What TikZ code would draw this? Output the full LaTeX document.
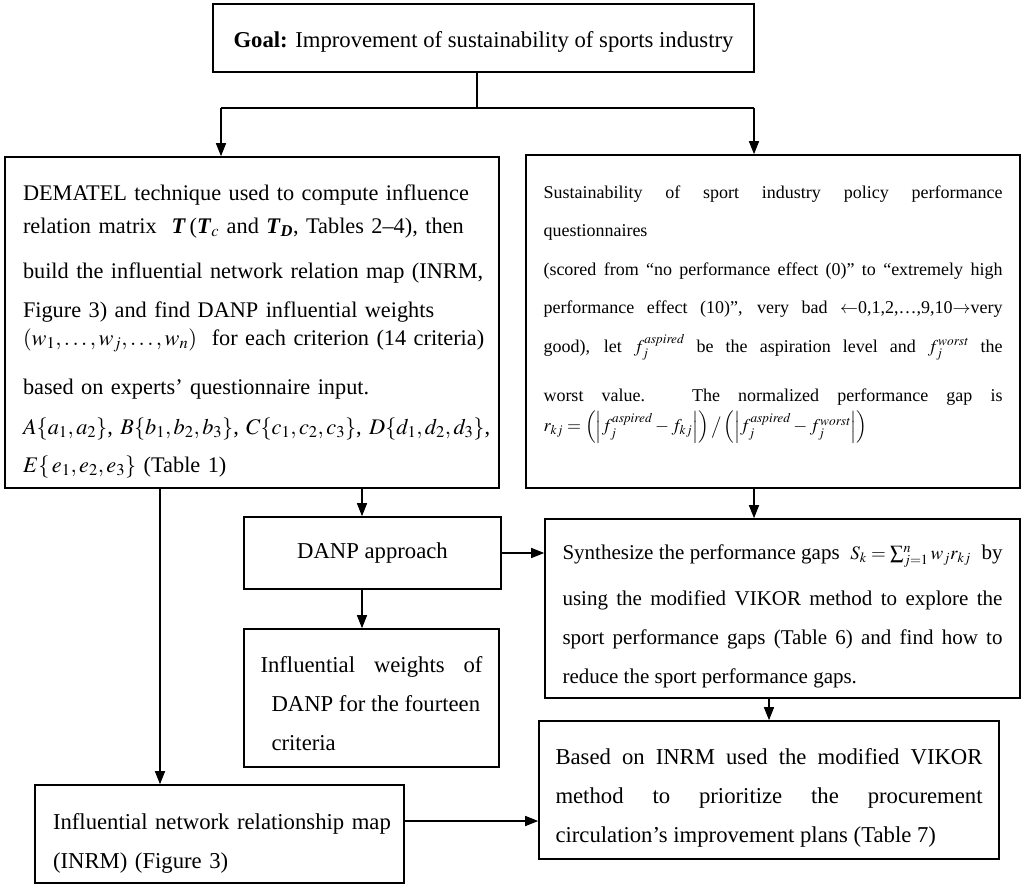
\documentclass[tikz,border=0pt]{standalone}
\usepackage{amsmath}
\usepackage{mathptmx}
\usepackage{fontspec}
\setmainfont{Liberation Serif}
\usetikzlibrary{shapes}
\usetikzlibrary{arrows.meta}

\begin{document}
\begin{tikzpicture}[x=1pt,y=-1pt]
\tikzstyle{cadre}=[rectangle,draw,line width=1.6pt,inner sep=0pt,font=\fontsize{22.7}{39}\selectfont]
\tikzstyle{petit}=[font=\fontsize{18}{38.5}\selectfont]
\tikzstyle{operation}=[-{Triangle[length=13pt,width=10pt]},line width=1.4pt]
\tikzstyle{trait}=[line width=1.4pt]
\useasboundingbox (0,0) rectangle (1024,888);
\node[cadre,minimum width=541,minimum height=68,text height=24pt] (goal) at (483.5,38) {\textbf{Goal:} Improvement of sustainability of sports industry};
\node[cadre,minimum width=494,minimum height=331,text width=458,align=left,font=\fontsize{22.3}{33}\selectfont] (dematel) at (252,322.5) {\mbox{DEMATEL technique used to compute influence}\\
\mbox{relation matrix~ \textbf{\textit{T}}\,(\textbf{\textit{T}}$_c$ and \textbf{\textit{T}}$_{\textbf{\textit{D}}}$, Tables 2--4), then}\\[12pt]
\mbox{build the influential network relation map (INRM,}\\[6pt]
\mbox{Figure 3) and find DANP influential weights}\\[-5pt]
\mbox{$(w_1,\ldots,w_j,\ldots,w_n)$~ for each criterion (14 criteria)}\\[16pt]
\mbox{based on experts' questionnaire input.}\\[7pt]
\mbox{$A\{a_1,a_2\}$, $B\{b_1,b_2, b_3\}$, $C\{c_1,c_2, c_3\}$, $D\{d_1,d_2, d_3\}$,}\\[5pt]
\mbox{$E\{\,e_1,e_2, e_3\}$ (Table 1)}\par\kern-18pt};
\node[cadre,petit,minimum width=494,minimum height=333,text width=459,align=justify] (survey) at (773,321.5) {Sustainability of sport industry policy performance\linebreak questionnaires\\
(scored from ``no performance effect (0)'' to ``extremely high\linebreak performance effect (10)'', very bad $\leftarrow$0,1,2,\ldots,9,10$\rightarrow$very\linebreak good), let $f_j^{\mathit{aspired}}$ be the aspiration level and $f_j^{\mathit{worst}}$ the\linebreak \rule{0pt}{40pt}worst value. The normalized performance gap is{\parfillskip=0pt\par}\kern-8pt
\noindent$r_{kj}=\left(\left|f_j^{\mathit{aspired}}-f_{kj}\right|\right)\big/\left(\left|f_j^{\mathit{aspired}}-f_j^{\mathit{worst}}\right|\right)$\par\kern14pt};
\node[cadre,minimum width=257,minimum height=72] (danp) at (372.5,553) {DANP approach};
\node[cadre,minimum width=255,minimum height=138,text width=222,align=justify] (weights) at (371.5,698) {Influential weights of\linebreak \hspace*{11pt}DANP for the fourteen\\ \hspace*{11pt}criteria\par\kern-12pt};
\node[cadre,minimum width=475,minimum height=179,text width=440,align=justify,font=\fontsize{21}{39}\selectfont] (synth) at (782.5,608.5) {Synthesize the performance gaps~ {\fontsize{19}{39}\selectfont$S_k=\sum_{j=1}^{n}w_jr_{kj}$}~ by\linebreak \rule{0pt}{37pt}using the modified VIKOR method to explore the\linebreak sport performance gaps (Table 6) and find how to\linebreak reduce the sport performance gaps.\par\kern-16pt};
\node[cadre,minimum width=460,minimum height=138,text width=427,align=justify] (based) at (769,790) {Based on INRM used the modified VIKOR\linebreak method to prioritize the procurement\linebreak circulation's improvement plans (Table 7)\par\kern-16pt};
\node[cadre,minimum width=369,minimum height=98,text width=333,align=left] (inrm) at (219.5,834) {\mbox{Influential network relationship map}\\(INRM) (Figure 3)\par\kern-18pt};
%fleches
\coordinate (split) at (477,108);
\coordinate (dl) at (221,108);
\coordinate (dr) at (754,108);
\coordinate (cl) at (160,0);
\coordinate (cm) at (362,0);
\coordinate (cb) at (0,821);
\draw[trait] (goal.south -| split)--(split);
\draw[trait] (dl)--(dr);
\draw[operation] (dl)--(dl |- dematel.north);
\draw[operation] (dr)--(dr |- survey.north);
\draw[operation] (cl |- dematel.south)--(cl |- inrm.north);
\draw[operation] (cm |- dematel.south)--(cm |- danp.north);
\draw[operation] (cm |- danp.south)--(cm |- weights.north);
\draw[operation] (dr |- survey.south)--(dr |- synth.north);
\draw[operation] (danp.east)--(danp.east -| synth.west);
\draw[operation] (based.north |- synth.south)--(based.north);
\draw[operation] (cb -| inrm.east)--(cb -| based.west);
\end{tikzpicture}
\end{document}
